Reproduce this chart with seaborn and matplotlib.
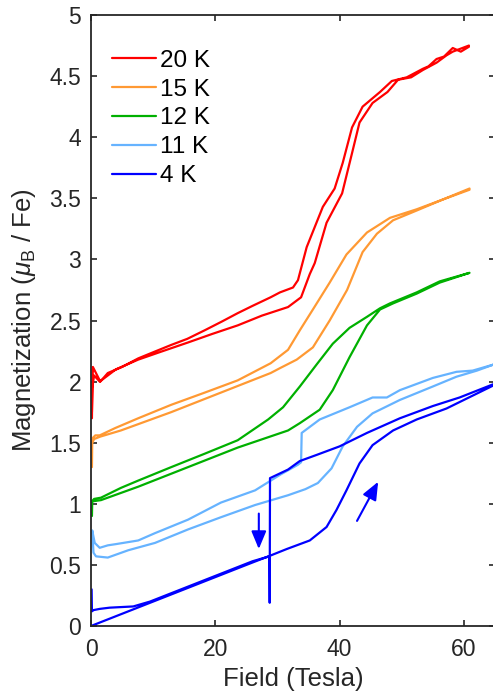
import numpy as np
import pandas as pd
import matplotlib
matplotlib.use("Agg")
import matplotlib.pyplot as plt
from matplotlib.ticker import FuncFormatter
import seaborn as sns

# ---------------- data ----------------
labels = ["20 K", "15 K", "12 K", "11 K", "4 K"]
colors = ["#ff0000", "#ff9933", "#00b000", "#66b3ff", "#0000ff"]

# 20 K
x20_up = [0.15, 0.2, 0.5, 1.4, 4.0, 7.6, 11.0, 15.6, 19.5, 23.6, 27.5, 31.7, 33.8, 35.2, 36.0, 37.9, 40.4, 42.0, 43.2, 45.3, 47.7, 49.4, 51.5, 53.4, 55.6, 57.2, 58.2, 60.8]
y20_up = [1.70, 1.95, 2.05, 2.00, 2.10, 2.18, 2.24, 2.32, 2.39, 2.46, 2.54, 2.61, 2.69, 2.88, 2.97, 3.30, 3.54, 3.87, 4.12, 4.28, 4.37, 4.47, 4.49, 4.55, 4.61, 4.67, 4.70, 4.75]
x20_dn = [60.8, 59.5, 58.2, 56.8, 55.6, 54.3, 53.4, 50.8, 48.4, 46.5, 43.7, 42.0, 40.5, 39.2, 37.3, 34.7, 33.3, 32.5, 30.4, 28.9, 26.0, 23.6, 21.0, 18.3, 15.5, 12.9, 10.0, 7.6, 5.0, 2.7, 1.5, 0.6, 0.3, 0.15]
y20_dn = [4.74, 4.70, 4.73, 4.66, 4.64, 4.58, 4.56, 4.49, 4.46, 4.37, 4.25, 4.08, 3.79, 3.58, 3.43, 3.10, 2.83, 2.77, 2.73, 2.69, 2.62, 2.56, 2.49, 2.42, 2.35, 2.30, 2.24, 2.19, 2.12, 2.07, 2.00, 2.09, 2.12, 1.75]

# 15 K
x15_up = [0.15, 0.2, 0.5, 1.5, 4.8, 12.9, 20.9, 28.9, 30.4, 33.1, 35.7, 38.4, 41.2, 43.7, 46.0, 48.6, 52.4, 56.6, 60.9]
y15_up = [1.30, 1.50, 1.53, 1.55, 1.60, 1.75, 1.91, 2.07, 2.11, 2.18, 2.28, 2.50, 2.75, 3.06, 3.21, 3.32, 3.40, 3.49, 3.57]
x15_dn = [60.9, 56.6, 52.4, 48.1, 44.4, 41.1, 38.4, 35.7, 33.6, 31.7, 28.9, 23.6, 18.3, 12.9, 7.6, 3.9, 1.4, 0.7, 0.3, 0.15]
y15_dn = [3.58, 3.49, 3.41, 3.34, 3.22, 3.04, 2.81, 2.59, 2.42, 2.26, 2.15, 2.01, 1.91, 1.81, 1.70, 1.62, 1.56, 1.56, 1.54, 1.50]

# 12 K
x12_up = [0.15, 0.2, 1.6, 7.6, 15.6, 23.6, 31.7, 33.6, 36.8, 38.9, 41.6, 44.4, 46.5, 48.6, 52.4, 56.1, 60.9]
y12_up = [0.90, 1.02, 1.03, 1.14, 1.30, 1.46, 1.60, 1.66, 1.77, 1.93, 2.20, 2.46, 2.59, 2.64, 2.72, 2.81, 2.89]
x12_dn = [60.9, 56.1, 52.4, 48.1, 46.5, 44.4, 41.6, 38.9, 36.3, 33.6, 30.9, 28.5, 23.6, 18.3, 12.9, 7.6, 4.8, 1.6, 0.5, 0.15]
y12_dn = [2.89, 2.82, 2.73, 2.64, 2.60, 2.53, 2.44, 2.31, 2.14, 1.96, 1.79, 1.69, 1.52, 1.41, 1.30, 1.19, 1.13, 1.05, 1.04, 1.02]

# 11 K
x11_up = [0.2, 0.4, 0.8, 2.7, 6.0, 10.3, 15.6, 20.9, 26.4, 31.7, 34.5, 36.5, 38.7, 40.5, 42.8, 45.3, 49.7, 55.0, 58.8, 62.1, 64.8]
y11_up = [0.78, 0.60, 0.57, 0.56, 0.62, 0.68, 0.79, 0.89, 0.99, 1.07, 1.12, 1.17, 1.29, 1.47, 1.63, 1.74, 1.85, 1.96, 2.04, 2.09, 2.14]
x11_dn = [64.8, 61.4, 58.8, 55.0, 49.7, 47.6, 45.3, 41.6, 36.8, 33.9, 33.8, 33.3, 30.5, 26.4, 20.9, 15.6, 10.3, 7.6, 4.0, 2.7, 1.4, 0.6, 0.2]
y11_dn = [2.14, 2.09, 2.08, 2.03, 1.93, 1.87, 1.87, 1.79, 1.69, 1.58, 1.34, 1.32, 1.24, 1.11, 1.01, 0.87, 0.76, 0.70, 0.67, 0.66, 0.64, 0.68, 0.78]

# 4 K
x4_up = [0.0, 5.0, 10.0, 15.0, 20.0, 25.0, 28.8, 31.5, 35.2, 37.9, 39.5, 41.1, 43.2, 45.3, 48.6, 52.4, 57.2, 60.4, 64.8]
y4_up = [0.0, 0.10, 0.20, 0.30, 0.40, 0.50, 0.575, 0.63, 0.70, 0.81, 0.95, 1.11, 1.33, 1.48, 1.60, 1.69, 1.78, 1.86, 1.97]
x4_dn = [64.8, 59.3, 55.0, 49.7, 44.4, 40.0, 36.3, 33.6, 31.7, 28.8, 28.75, 28.7, 26.0, 20.0, 15.0, 12.0, 9.5, 6.8, 3.0, 1.4, 0.4, 0.15, 0.1]
y4_dn = [1.98, 1.87, 1.80, 1.70, 1.58, 1.47, 1.40, 1.35, 1.28, 1.21, 0.19, 0.57, 0.53, 0.41, 0.31, 0.25, 0.20, 0.16, 0.15, 0.14, 0.13, 0.12, 0.30]

# sweep-direction arrows for 4 K (tail x, tail y, head x, head y)
arrow_down = [27.0, 0.92, 27.0, 0.63]
arrow_up = [42.8, 0.86, 46.2, 1.18]

xticks = [0, 20, 40, 60]
yticks = [0, 0.5, 1, 1.5, 2, 2.5, 3, 3.5, 4, 4.5, 5]

# ---------------- plot ----------------
sns.set_theme(style="white")
plt.rcParams["font.family"] = ["Liberation Sans", "DejaVu Sans"]
plt.rcParams["mathtext.fontset"] = "custom"
plt.rcParams["mathtext.it"] = "Liberation Sans:italic"
plt.rcParams["mathtext.rm"] = "Liberation Sans"

fig = plt.figure(figsize=(4.93, 6.96), dpi=100)
ax = fig.add_axes([91 / 493, 1 - 626 / 696, (495 - 91) / 493, (626 - 15) / 696])

series = [
    (x20_up + x20_dn, y20_up + y20_dn),
    (x15_up + x15_dn, y15_up + y15_dn),
    (x12_up + x12_dn, y12_up + y12_dn),
    (x11_up + x11_dn, y11_up + y11_dn),
    (x4_up + x4_dn, y4_up + y4_dn),
]

for (xs, ys), lab, col in zip(series, labels, colors):
    df = pd.DataFrame({"Field": xs, "M": ys})
    sns.lineplot(data=df, x="Field", y="M", sort=False, estimator=None,
                 color=col, lw=1.6, label=lab, ax=ax)

for a in (arrow_down, arrow_up):
    ax.annotate("", xy=(a[2], a[3]), xytext=(a[0], a[1]),
                arrowprops=dict(arrowstyle="-|>,head_length=0.6,head_width=0.25",
                                color="#0000ff", lw=1.5, mutation_scale=18,
                                shrinkA=0, shrinkB=0))

ax.set_xlim(0, 65)
ax.set_ylim(0, 5)
ax.set_xticks(xticks)
ax.set_yticks(yticks)
ax.yaxis.set_major_formatter(FuncFormatter(lambda v, p: f"{v:g}"))
ax.xaxis.set_major_formatter(FuncFormatter(lambda v, p: f"{v:g}"))

dark = "#262626"
for s in ax.spines.values():
    s.set_visible(True)
    s.set_color(dark)
    s.set_linewidth(1.3)
ax.tick_params(direction="in", length=4.5, width=1.2, color=dark, labelcolor=dark,
               labelsize=16.5, top=True, right=True, bottom=True, left=True)
ax.tick_params(axis="x", pad=9)
ax.tick_params(axis="y", pad=7)

ax.set_xlabel("Field (Tesla)", fontsize=18.5, color=dark, labelpad=4)
ax.set_ylabel(r"Magnetization ($\mu_{\mathrm{B}}$ / Fe)", fontsize=18.5, color=dark, labelpad=8)

leg = ax.legend(loc="upper left", frameon=False, fontsize=17.5, handlelength=1.8,
                handletextpad=0.17, labelspacing=0.28, borderpad=0.4, borderaxespad=0.0,
                bbox_to_anchor=(0.028, 0.959))
for t in leg.get_texts():
    t.set_color("black")

fig.savefig("out.png", dpi=100)
